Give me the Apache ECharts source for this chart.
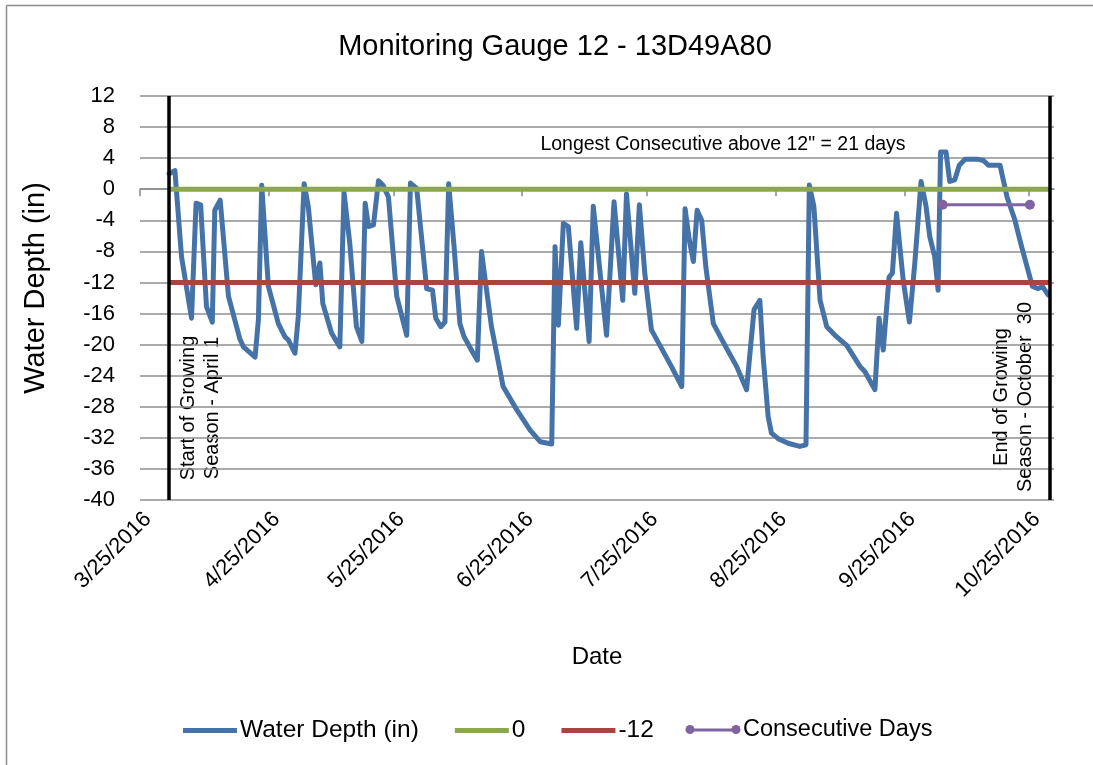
<!DOCTYPE html>
<html>
<head>
<meta charset="utf-8">
<title>Monitoring Gauge 12 - 13D49A80</title>
<script src="https://cdn.jsdelivr.net/npm/echarts@6/dist/echarts.min.js"></script>
<style>
  html, body { margin: 0; padding: 0; background: #fff; }
  #chart { width: 1093px; height: 765px; }
</style>
</head>
<body>
<div id="chart"></div>
<script>
// x values are days counted from 3/25/2016
const tickDays = [0, 31, 61, 92, 122, 153, 184, 214];
const tickLabels = ['3/25/2016', '4/25/2016', '5/25/2016', '6/25/2016',
  '7/25/2016', '8/25/2016', '9/25/2016', '10/25/2016'];

// water depth readings (in)
const depthDays = [
  7.0, 8.4, 10.0, 12.4, 13.5, 14.6, 16.0, 17.4, 18.0, 19.3,
  21.3, 24.0, 24.9, 27.7, 28.5, 29.3, 30.9, 33.3, 34.9, 35.7,
  37.3, 38.1, 39.5, 40.5, 42.3, 43.3, 44.0, 46.1, 48.1, 49.1,
  50.5, 52.1, 53.4, 54.2, 55.0, 56.2, 57.4, 58.5, 59.8, 61.8,
  64.2, 65.1, 66.6, 69.0, 70.4, 71.2, 72.4, 73.4, 74.3, 75.6,
  77.0, 78.0, 80.2, 81.2, 82.2, 83.0, 84.6, 87.4, 90.7, 93.9,
  96.3, 99.1, 99.9, 100.7, 101.9, 103.1, 105.1, 106.1, 108.1, 109.1,
  112.3, 114.1, 116.2, 117.1, 119.1, 120.2, 121.5, 123.1, 127.9, 130.4,
  131.2, 132.2, 133.2, 134.1, 135.2, 136.2, 138.0, 140.8, 143.6, 146.0,
  147.8, 149.2, 150.0, 151.2, 152.0, 153.6, 156.0, 158.8, 160.3, 161.1,
  162.2, 163.7, 165.3, 167.3, 170.1, 173.3, 174.5, 176.9, 177.9, 178.9,
  180.3, 181.1, 182.1, 183.7, 185.2, 186.5, 188.0, 189.2, 190.1, 191.3,
  192.1, 192.7, 194.0, 194.9, 196.1, 197.2, 198.6, 201.8, 203.0, 204.2,
  207.0, 208.7, 210.6, 212.2, 214.8, 216.2, 217.2, 218.6
];
const depthValues = [
  2.0, 2.4, -8.7, -16.6, -1.8, -2.0, -15.1, -17.1, -2.7, -1.4,
  -13.8, -19.2, -20.3, -21.6, -16.8, 0.5, -12.5, -17.3, -19.0, -19.4,
  -21.1, -16.4, 0.7, -2.2, -12.3, -9.5, -14.7, -18.5, -20.3, -0.4,
  -7.0, -17.7, -19.6, -1.8, -4.8, -4.6, 1.1, 0.5, -1.0, -13.8,
  -18.8, 0.8, 0.1, -12.8, -13.0, -16.6, -17.7, -17.1, 0.7, -7.4,
  -17.3, -19.0, -21.1, -22.0, -8.0, -11.3, -17.7, -25.4, -28.4, -31.0,
  -32.5, -32.8, -7.4, -17.5, -4.4, -4.8, -17.9, -6.9, -19.6, -2.2,
  -18.8, -1.6, -14.3, -0.6, -13.4, -2.0, -10.8, -18.1, -22.8, -25.4,
  -2.5, -6.5, -9.3, -2.7, -4.0, -10.0, -17.3, -20.1, -22.8, -25.8,
  -15.5, -14.3, -21.6, -29.3, -31.4, -32.1, -32.7, -33.1, -32.9, 0.55,
  -2.2, -14.3, -17.7, -18.8, -20.1, -22.8, -23.5, -25.8, -16.6, -20.7,
  -11.3, -10.8, -3.1, -11.7, -17.1, -9.5, 1.0, -2.2, -6.1, -8.7,
  -13.0, 4.8, 4.8, 1.0, 1.2, 3.1, 3.85, 3.85, 3.7, 3.1,
  3.1, -1.0, -4.0, -7.4, -12.5, -12.8, -12.5, -13.6
];

// growing season: April 1 to October 30
const seasonDays = [7, 219];
const zeroLine = [0, 0];
const minus12Line = [-12, -12];

// longest run above -12" (21 days)
const consecDays = [193.2, 214.2];
const consecValues = [-2, -2];

const font = '"Liberation Sans", Arial, sans-serif';
const purple = '#8064A2';

const zip = (xs, ys) => xs.map((x, i) => [x, ys[i]]);

const chart = echarts.init(document.getElementById('chart'));
chart.setOption({
  animation: false,
  backgroundColor: '#fff',
  textStyle: { fontFamily: font, color: '#000' },
  title: {
    text: 'Monitoring Gauge 12 - 13D49A80',
    left: 550,
    textAlign: 'center',
    top: 27,
    textStyle: { fontFamily: font, fontSize: 29, fontWeight: 'normal', color: '#000' }
  },
  grid: { left: 140, right: 39, top: 96, bottom: 265 },
  legend: [
    {
      left: 183,
      top: 718,
      padding: 0,
      itemWidth: 54,
      itemHeight: 5,
      itemGap: 36,
      data: [
        { name: 'Water Depth (in)', icon: 'rect' },
        { name: '0', icon: 'rect' },
        { name: '-12', icon: 'rect' }
      ],
      textStyle: { fontFamily: font, fontSize: 24.5, color: '#000', padding: [0, 0, 0, -2] }
    },
    {
      left: 686,
      top: 718,
      padding: 0,
      itemWidth: 54,
      itemHeight: 3,
      data: [{ name: 'Consecutive Days', icon: 'rect', itemStyle: { color: purple } }],
      textStyle: { fontFamily: font, fontSize: 23.5, color: '#000', padding: [0, 0, 0, -2] }
    }
  ],
  xAxis: [
    {
      type: 'value',
      min: 0,
      max: 220,
      name: 'Date',
      nameLocation: 'middle',
      nameGap: 145,
      nameTextStyle: { fontFamily: font, fontSize: 24, color: '#000' },
      axisLine: { show: false, onZero: false },
      axisTick: { show: false },
      splitLine: { show: false },
      axisLabel: {
        customValues: tickDays,
        formatter: (v) => tickLabels[tickDays.indexOf(v)],
        rotate: 45,
        margin: 8,
        verticalAlign: 'top',
        fontFamily: font,
        fontSize: 22,
        color: '#000'
      }
    },
    {
      type: 'value',
      min: 0,
      max: 220,
      position: 'bottom',
      axisLine: { onZero: true, onZeroAxisIndex: 0, lineStyle: { color: '#8a8a8a', width: 1.5 } },
      axisTick: { customValues: tickDays, length: 7, lineStyle: { color: '#8a8a8a', width: 1.5 } },
      axisLabel: { show: false },
      splitLine: { show: false }
    }
  ],
  yAxis: {
    type: 'value',
    min: -40,
    max: 12,
    interval: 4,
    name: 'Water Depth (in)',
    nameLocation: 'middle',
    nameGap: 90,
    nameTextStyle: { fontFamily: font, fontSize: 29, color: '#000', padding: [0, 0, 0, 20] },
    axisLine: { show: false },
    axisTick: { show: false },
    axisLabel: { margin: 25, fontFamily: font, fontSize: 22, color: '#000' },
    splitLine: { lineStyle: { color: '#8f8f8f', width: 1.5 } }
  },
  series: [
    {
      name: 'Water Depth (in)',
      type: 'line',
      data: zip(depthDays, depthValues),
      symbol: 'none',
      color: '#4572A7',
      lineStyle: { width: 5, cap: 'round', join: 'round' },
      z: 2
    },
    {
      name: '0',
      type: 'line',
      data: zip(seasonDays, zeroLine),
      symbol: 'none',
      color: '#8BA74F',
      lineStyle: { width: 5 },
      z: 3
    },
    {
      name: '-12',
      type: 'line',
      data: zip(seasonDays, minus12Line),
      symbol: 'none',
      color: '#AA4441',
      lineStyle: { width: 5 },
      z: 3
    },
    {
      name: 'Consecutive Days',
      type: 'line',
      data: zip(consecDays, consecValues),
      symbol: 'circle',
      symbolSize: 10,
      color: purple,
      lineStyle: { width: 3 },
      z: 4
    },
    {
      name: 'season',
      type: 'line',
      data: [],
      z: 5,
      markLine: {
        silent: true,
        symbol: 'none',
        label: { show: false },
        lineStyle: { color: '#000', width: 3.5, type: 'solid' },
        data: seasonDays.map((d) => ({ xAxis: d }))
      }
    }
  ],
  graphic: [
    {
      type: 'line',
      shape: { x1: 6.5, y1: 5.5, x2: 1093, y2: 5.5 },
      style: { stroke: '#8c8c8c', lineWidth: 1.5 }
    },
    {
      type: 'line',
      shape: { x1: 6.5, y1: 5.5, x2: 6.5, y2: 765 },
      style: { stroke: '#8c8c8c', lineWidth: 1.5 }
    },
    // end markers of the purple legend key
    { type: 'circle', shape: { cx: 690, cy: 729.5, r: 4.5 }, style: { fill: purple }, z: 100 },
    { type: 'circle', shape: { cx: 736, cy: 729.5, r: 4.5 }, style: { fill: purple }, z: 100 },
    {
      type: 'text',
      x: 723,
      y: 145,
      style: {
        text: 'Longest Consecutive above 12" = 21 days',
        fontFamily: font,
        fontSize: 19.5,
        fill: '#000',
        align: 'center',
        verticalAlign: 'middle'
      }
    },
    {
      type: 'text',
      x: 200,
      y: 408,
      rotation: Math.PI / 2,
      style: {
        text: 'Start of Growing\nSeason - April 1',
        fontFamily: font,
        fontSize: 20,
        lineHeight: 24,
        fill: '#000',
        align: 'center',
        verticalAlign: 'middle'
      }
    },
    {
      type: 'text',
      x: 1013,
      y: 397,
      rotation: Math.PI / 2,
      style: {
        text: 'End of Growing\nSeason - October  30',
        fontFamily: font,
        fontSize: 20,
        lineHeight: 24,
        fill: '#000',
        align: 'center',
        verticalAlign: 'middle'
      }
    }
  ]
});
</script>
</body>
</html>
